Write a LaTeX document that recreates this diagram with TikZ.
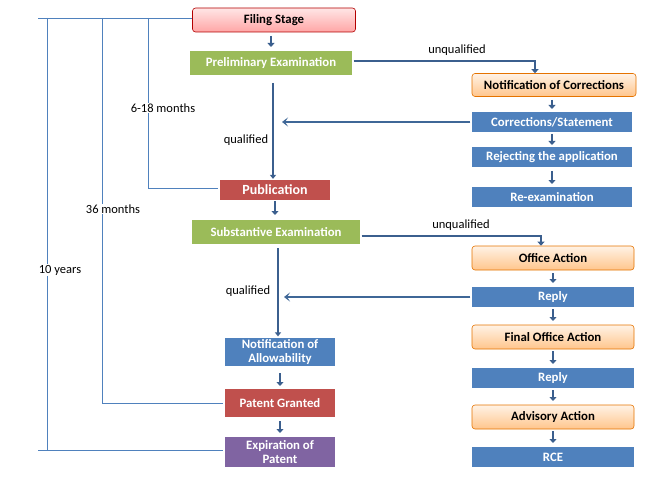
\documentclass[tikz,border=0pt]{standalone}
\usepackage{fontspec}
\setmainfont{Carlito}
\usetikzlibrary{arrows.meta}
\definecolor{ab}{HTML}{3B5F8E}
\definecolor{lb}{HTML}{4F81BD}
\definecolor{gr}{HTML}{9BBB59}
\definecolor{rd}{HTML}{C0504D}
\definecolor{pu}{HTML}{8064A2}
\definecolor{bl}{HTML}{4F81BD}
\begin{document}
\begin{tikzpicture}[x=1pt,y=-1pt,
 box/.style={draw=white,line width=1.2pt,text=white,font=\bfseries\fontsize{12.8}{13.5}\selectfont,minimum height=20pt,inner sep=1pt,align=center},
 pink/.style={draw=red!70!black,line width=0.6pt,rounded corners=3pt,top color=red!10,bottom color=red!35,text=black,font=\bfseries\fontsize{12.8}{13.5}\selectfont,inner sep=1pt},
 orng/.style={draw=orange!90!black,line width=0.6pt,rounded corners=3pt,top color=orange!10,bottom color=orange!45,text=black,font=\bfseries\fontsize{12.8}{13.5}\selectfont,inner sep=1pt},
 sa/.style={ab,line width=2.2pt,-{Triangle[length=4pt,width=7pt]}},
 la/.style={ab,line width=2.2pt,-{Triangle[length=4pt,width=6pt]}},
 ta/.style={lb!80!black,line width=2pt,-{Stealth[length=6pt,width=9pt,inset=3pt]}},
 br/.style={lb,line width=0.8pt},
 lab/.style={font=\fontsize{12.5}{13}\selectfont,fill=white,inner sep=1pt}]
\useasboundingbox (0,0) rectangle (663,497);
\node[pink,minimum width=163pt,minimum height=24pt] (fs) at (274,20) {Filing Stage};
\node[box,fill=gr,minimum width=164pt,minimum height=26pt] (pe) at (271,63) {Preliminary Examination};
\node[box,fill=rd,minimum width=112pt,minimum height=21pt] (pub) at (275,190) {\fontsize{14}{14}\selectfont Publication};
\node[box,fill=gr,minimum width=170pt,minimum height=25pt] (se) at (276,232) {Substantive Examination};
\node[box,fill=bl,minimum width=112pt,minimum height=30pt] (na) at (280,352) {Notification of\\Allowability};
\node[box,fill=rd,minimum width=112pt,minimum height=29pt] (pg) at (280,403) {Patent Granted};
\node[box,fill=pu,minimum width=112pt,minimum height=32pt] (ex) at (280,452) {Expiration of\\Patent};
\node[orng,minimum width=164pt,minimum height=23pt] (nc) at (554,85) {Notification of Corrections};
\node[box,fill=bl,minimum width=162pt,minimum height=22pt] (cs) at (552,122) {Corrections/Statement};
\node[box,fill=bl,minimum width=162pt,minimum height=22pt] (rj) at (552,157) {Rejecting the application};
\node[box,fill=bl,minimum width=162pt,minimum height=22pt] (re) at (552,197) {Re-examination};
\node[orng,minimum width=162pt,minimum height=24pt] (oa) at (553,258) {Office Action};
\node[box,fill=bl,minimum width=164pt,minimum height=22pt] (r1) at (553,297) {Reply};
\node[orng,minimum width=162pt,minimum height=24pt] (fo) at (553,337) {Final Office Action};
\node[box,fill=bl,minimum width=164pt,minimum height=22pt] (r2) at (553,378) {Reply};
\node[orng,minimum width=162pt,minimum height=24pt] (ad) at (553,417) {Advisory Action};
\node[box,fill=bl,minimum width=164pt,minimum height=22pt] (rce) at (553,457) {RCE};
% small arrows
\draw[sa] (271,36) -- (271,47);
\draw[sa] (275,201) -- (275,215);
\draw[sa] (280,373) -- (280,386);
\draw[sa] (280,421) -- (280,433);
\draw[sa] (552,100) -- (552,109);
\draw[sa] (552,134) -- (552,145);
\draw[sa] (552,171) -- (552,184);
\draw[sa] (553,273) -- (553,283);
\draw[sa] (553,309) -- (553,321);
\draw[sa] (553,351) -- (553,364);
\draw[sa] (553,390) -- (553,401);
\draw[sa] (553,431) -- (553,443);
% long
\draw[la] (273,83) -- (pub.north -| 273,0);
\draw[la] (278,248) -- (na.north -| 278,0);
\draw[ab,line width=1.6pt,-{Triangle[length=4pt,width=7pt]}] (pe.east |- 0,61) -- (535,61) -- (nc.north -| 535,0);
\draw[ab,line width=1.6pt,-{Triangle[length=4pt,width=7pt]}] (se.east |- 0,236) -- (541,236) -- (oa.north -| 541,0);
\draw[ta] (cs.west) -- (282,122);
\draw[ta] (r1.west) -- (284,297);
\node[lab] (u1) at (457,50) {unqualified};
\node[lab] (u2) at (461,225) {unqualified};
\node[lab,fill=none] (q1) at (246,140) {qualified};
\node[lab,fill=none] (q2) at (248,291) {qualified};
% brackets
\draw[br] (38,18) -- (fs.west |- 0,18);
\draw[br] (148,18) -- (148,188) -- (pub.west |- 0,188);
\draw[br] (102,18) -- (102,403) -- (pg.west);
\draw[br] (47,18) -- (47,450) -- (ex.west |- 0,450);
\draw[br] (38,450) -- (47,450);
\node[lab] (m1) at (163,108) {6-18 months};
\node[lab] (m2) at (113,209) {36 months};
\node[lab] (m3) at (60,270) {10 years};
\end{tikzpicture}
\end{document}
